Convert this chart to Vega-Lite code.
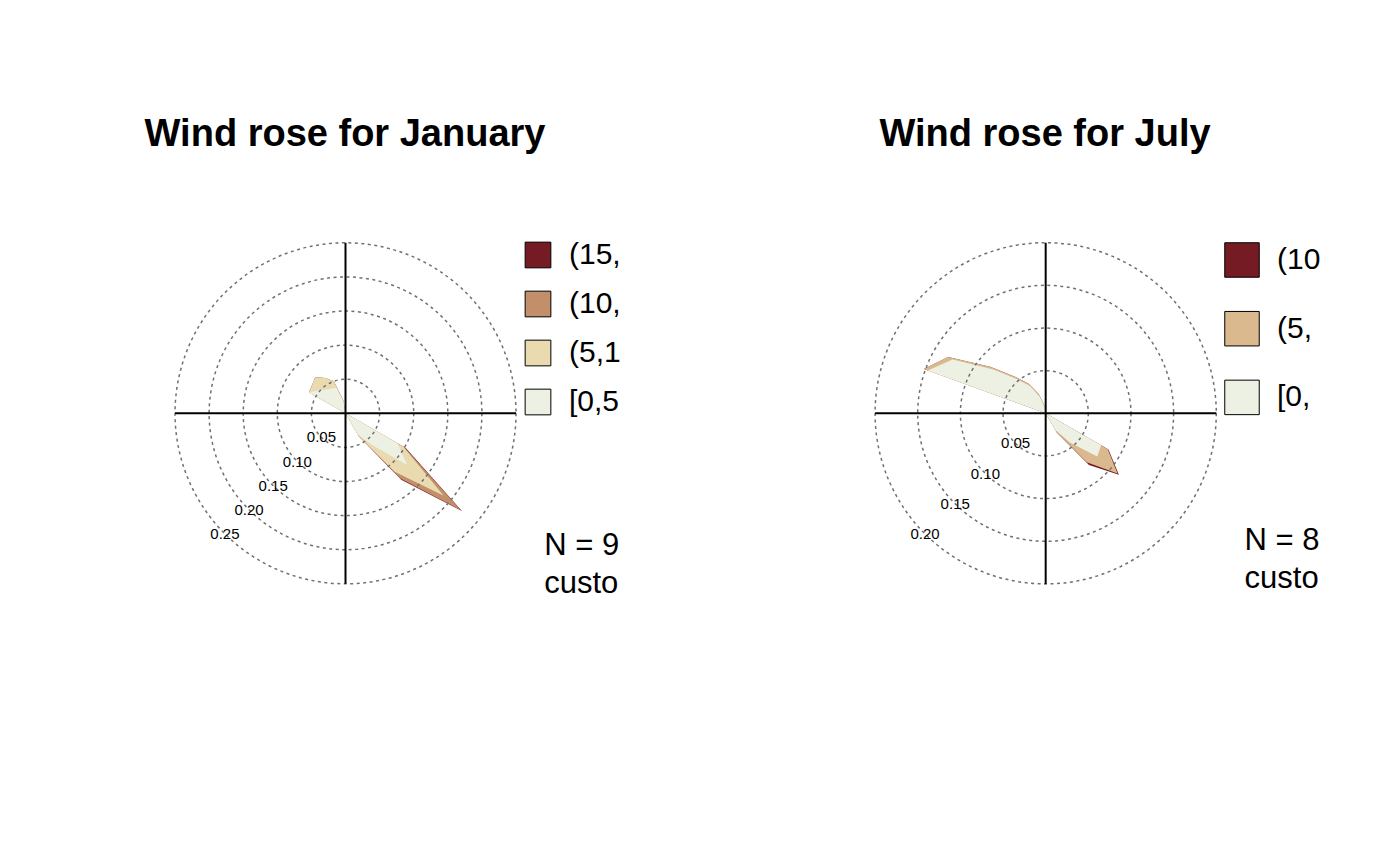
{
  "$schema": "https://vega.github.io/schema/vega-lite/v6.json",
  "background": "white",
  "padding": {"left": 70, "top": 116, "right": 0, "bottom": 0},
  "autosize": {"type": "pad"},
  "bounds": "flush",
  "spacing": 150,
  "config": {"view": {"stroke": null}, "font": "Liberation Sans"},
  "datasets": {
    "jan": [
      {"d": 0, "k": "[0,5]", "cum": 0}, {"d": 0, "k": "(5,10]", "cum": 0}, {"d": 0, "k": "(10,15]", "cum": 0}, {"d": 0, "k": "(15,20]", "cum": 0},
      {"d": 20, "k": "[0,5]", "cum": 0}, {"d": 20, "k": "(5,10]", "cum": 0}, {"d": 20, "k": "(10,15]", "cum": 0}, {"d": 20, "k": "(15,20]", "cum": 0},
      {"d": 30, "k": "[0,5]", "cum": 0.003}, {"d": 30, "k": "(5,10]", "cum": 0.009}, {"d": 30, "k": "(10,15]", "cum": 0.009}, {"d": 30, "k": "(15,20]", "cum": 0.009},
      {"d": 40, "k": "[0,5]", "cum": 0}, {"d": 40, "k": "(5,10]", "cum": 0}, {"d": 40, "k": "(10,15]", "cum": 0}, {"d": 40, "k": "(15,20]", "cum": 0},
      {"d": 110, "k": "[0,5]", "cum": 0}, {"d": 110, "k": "(5,10]", "cum": 0}, {"d": 110, "k": "(10,15]", "cum": 0}, {"d": 110, "k": "(15,20]", "cum": 0},
      {"d": 120, "k": "[0,5]", "cum": 0.088}, {"d": 120, "k": "(5,10]", "cum": 0.098}, {"d": 120, "k": "(10,15]", "cum": 0.1}, {"d": 120, "k": "(15,20]", "cum": 0.102},
      {"d": 130, "k": "[0,5]", "cum": 0.118}, {"d": 130, "k": "(5,10]", "cum": 0.188}, {"d": 130, "k": "(10,15]", "cum": 0.221}, {"d": 130, "k": "(15,20]", "cum": 0.223},
      {"d": 140, "k": "[0,5]", "cum": 0.06}, {"d": 140, "k": "(5,10]", "cum": 0.112}, {"d": 140, "k": "(10,15]", "cum": 0.125}, {"d": 140, "k": "(15,20]", "cum": 0.127},
      {"d": 150, "k": "[0,5]", "cum": 0.036}, {"d": 150, "k": "(5,10]", "cum": 0.037}, {"d": 150, "k": "(10,15]", "cum": 0.038}, {"d": 150, "k": "(15,20]", "cum": 0.039},
      {"d": 160, "k": "[0,5]", "cum": 0}, {"d": 160, "k": "(5,10]", "cum": 0}, {"d": 160, "k": "(10,15]", "cum": 0}, {"d": 160, "k": "(15,20]", "cum": 0},
      {"d": 190, "k": "[0,5]", "cum": 0}, {"d": 190, "k": "(5,10]", "cum": 0}, {"d": 190, "k": "(10,15]", "cum": 0}, {"d": 190, "k": "(15,20]", "cum": 0},
      {"d": 200, "k": "[0,5]", "cum": 0.004}, {"d": 200, "k": "(5,10]", "cum": 0.009}, {"d": 200, "k": "(10,15]", "cum": 0.009}, {"d": 200, "k": "(15,20]", "cum": 0.009},
      {"d": 210, "k": "[0,5]", "cum": 0}, {"d": 210, "k": "(5,10]", "cum": 0}, {"d": 210, "k": "(10,15]", "cum": 0}, {"d": 210, "k": "(15,20]", "cum": 0},
      {"d": 290, "k": "[0,5]", "cum": 0}, {"d": 290, "k": "(5,10]", "cum": 0}, {"d": 290, "k": "(10,15]", "cum": 0}, {"d": 290, "k": "(15,20]", "cum": 0},
      {"d": 300, "k": "[0,5]", "cum": 0.062}, {"d": 300, "k": "(5,10]", "cum": 0.062}, {"d": 300, "k": "(10,15]", "cum": 0.062}, {"d": 300, "k": "(15,20]", "cum": 0.062},
      {"d": 310, "k": "[0,5]", "cum": 0.052}, {"d": 310, "k": "(5,10]", "cum": 0.064}, {"d": 310, "k": "(10,15]", "cum": 0.064}, {"d": 310, "k": "(15,20]", "cum": 0.064},
      {"d": 320, "k": "[0,5]", "cum": 0.045}, {"d": 320, "k": "(5,10]", "cum": 0.069}, {"d": 320, "k": "(10,15]", "cum": 0.069}, {"d": 320, "k": "(15,20]", "cum": 0.069},
      {"d": 330, "k": "[0,5]", "cum": 0.042}, {"d": 330, "k": "(5,10]", "cum": 0.06}, {"d": 330, "k": "(10,15]", "cum": 0.06}, {"d": 330, "k": "(15,20]", "cum": 0.06},
      {"d": 340, "k": "[0,5]", "cum": 0.04}, {"d": 340, "k": "(5,10]", "cum": 0.05}, {"d": 340, "k": "(10,15]", "cum": 0.05}, {"d": 340, "k": "(15,20]", "cum": 0.05},
      {"d": 350, "k": "[0,5]", "cum": 0.018}, {"d": 350, "k": "(5,10]", "cum": 0.02}, {"d": 350, "k": "(10,15]", "cum": 0.02}, {"d": 350, "k": "(15,20]", "cum": 0.02}
    ],
    "jul": [
      {"d": 0, "k": "[0,5]", "cum": 0}, {"d": 0, "k": "(5,10]", "cum": 0}, {"d": 0, "k": "(10,15]", "cum": 0},
      {"d": 110, "k": "[0,5]", "cum": 0}, {"d": 110, "k": "(5,10]", "cum": 0}, {"d": 110, "k": "(10,15]", "cum": 0},
      {"d": 120, "k": "[0,5]", "cum": 0.075}, {"d": 120, "k": "(5,10]", "cum": 0.084}, {"d": 120, "k": "(10,15]", "cum": 0.085},
      {"d": 130, "k": "[0,5]", "cum": 0.079}, {"d": 130, "k": "(5,10]", "cum": 0.11}, {"d": 130, "k": "(10,15]", "cum": 0.112},
      {"d": 140, "k": "[0,5]", "cum": 0.045}, {"d": 140, "k": "(5,10]", "cum": 0.075}, {"d": 140, "k": "(10,15]", "cum": 0.079},
      {"d": 150, "k": "[0,5]", "cum": 0.023}, {"d": 150, "k": "(5,10]", "cum": 0.025}, {"d": 150, "k": "(10,15]", "cum": 0.026},
      {"d": 160, "k": "[0,5]", "cum": 0}, {"d": 160, "k": "(5,10]", "cum": 0}, {"d": 160, "k": "(10,15]", "cum": 0},
      {"d": 280, "k": "[0,5]", "cum": 0}, {"d": 280, "k": "(5,10]", "cum": 0}, {"d": 280, "k": "(10,15]", "cum": 0},
      {"d": 290, "k": "[0,5]", "cum": 0.147}, {"d": 290, "k": "(5,10]", "cum": 0.152}, {"d": 290, "k": "(10,15]", "cum": 0.152},
      {"d": 300, "k": "[0,5]", "cum": 0.126}, {"d": 300, "k": "(5,10]", "cum": 0.132}, {"d": 300, "k": "(10,15]", "cum": 0.132},
      {"d": 310, "k": "[0,5]", "cum": 0.08}, {"d": 310, "k": "(5,10]", "cum": 0.085}, {"d": 310, "k": "(10,15]", "cum": 0.085},
      {"d": 320, "k": "[0,5]", "cum": 0.052}, {"d": 320, "k": "(5,10]", "cum": 0.056}, {"d": 320, "k": "(10,15]", "cum": 0.056},
      {"d": 330, "k": "[0,5]", "cum": 0.037}, {"d": 330, "k": "(5,10]", "cum": 0.04}, {"d": 330, "k": "(10,15]", "cum": 0.04},
      {"d": 340, "k": "[0,5]", "cum": 0.021}, {"d": 340, "k": "(5,10]", "cum": 0.024}, {"d": 340, "k": "(10,15]", "cum": 0.024},
      {"d": 350, "k": "[0,5]", "cum": 0.008}, {"d": 350, "k": "(5,10]", "cum": 0.01}, {"d": 350, "k": "(10,15]", "cum": 0.01}
    ]
  },
  "resolve": {"scale": {"fill": "independent", "size": "independent"}, "legend": {"fill": "independent"}},
  "hconcat": [
    {
      "width": 550,
      "height": 440,
      "title": {"text": "Wind rose for January", "font": "Liberation Sans", "fontSize": 38, "fontWeight": "bold", "color": "black", "anchor": "middle", "offset": 46},
      "layer": [
        {
          "data": {"name": "jan"},
          "transform": [
            {"filter": "datum.k === '(15,20]'"},
            {"calculate": "datum.cum*sin(datum.d*PI/180)", "as": "x"},
            {"calculate": "datum.cum*cos(datum.d*PI/180)", "as": "y"}
          ],
          "mark": {"type": "line", "interpolate": "linear-closed", "stroke": "black", "strokeWidth": 0},
          "encoding": {
            "x": {"field": "x", "type": "quantitative", "scale": {"domain": [-0.404, 0.4025], "nice": false, "zero": false}, "axis": null},
            "y": {"field": "y", "type": "quantitative", "scale": {"domain": [-0.3324, 0.3128], "nice": false, "zero": false}, "axis": null},
            "order": {"field": "d", "type": "quantitative"},
            "fill": {"field": "k", "type": "nominal",
              "scale": {"domain": ["(15,20]", "(10,15]", "(5,10]", "[0,5]"], "range": ["#741B23", "#C38E6A", "#E9DAB0", "#EDF1E4"]},
              "legend": {"title": null, "orient": "none", "legendX": 453, "legendY": 40, "padding": 0, "symbolType": "square", "symbolSize": 660, "symbolStrokeColor": "black", "symbolStrokeWidth": 1, "symbolOpacity": 1, "labelFont": "Liberation Sans", "labelFontSize": 30, "labelColor": "black", "labelLimit": 200, "labelOffset": 16, "rowPadding": 19, "labelExpr": "truncate(datum.label, 4, 'right', '')"}}
          }
        },
        {
          "data": {"name": "jan"},
          "transform": [
            {"filter": "datum.k === '(10,15]'"},
            {"calculate": "datum.cum*sin(datum.d*PI/180)", "as": "x"},
            {"calculate": "datum.cum*cos(datum.d*PI/180)", "as": "y"}
          ],
          "mark": {"type": "line", "interpolate": "linear-closed", "stroke": "black", "strokeWidth": 0},
          "encoding": {
            "x": {"field": "x", "type": "quantitative", "scale": {"domain": [-0.404, 0.4025], "nice": false, "zero": false}, "axis": null},
            "y": {"field": "y", "type": "quantitative", "scale": {"domain": [-0.3324, 0.3128], "nice": false, "zero": false}, "axis": null},
            "order": {"field": "d", "type": "quantitative"},
            "fill": {"field": "k", "type": "nominal",
              "scale": {"domain": ["(15,20]", "(10,15]", "(5,10]", "[0,5]"], "range": ["#741B23", "#C38E6A", "#E9DAB0", "#EDF1E4"]},
              "legend": {"title": null, "orient": "none", "legendX": 453, "legendY": 40, "padding": 0, "symbolType": "square", "symbolSize": 660, "symbolStrokeColor": "black", "symbolStrokeWidth": 1, "symbolOpacity": 1, "labelFont": "Liberation Sans", "labelFontSize": 30, "labelColor": "black", "labelLimit": 200, "labelOffset": 16, "rowPadding": 19, "labelExpr": "truncate(datum.label, 4, 'right', '')"}}
          }
        },
        {
          "data": {"name": "jan"},
          "transform": [
            {"filter": "datum.k === '(5,10]'"},
            {"calculate": "datum.cum*sin(datum.d*PI/180)", "as": "x"},
            {"calculate": "datum.cum*cos(datum.d*PI/180)", "as": "y"}
          ],
          "mark": {"type": "line", "interpolate": "linear-closed", "stroke": "black", "strokeWidth": 0},
          "encoding": {
            "x": {"field": "x", "type": "quantitative", "scale": {"domain": [-0.404, 0.4025], "nice": false, "zero": false}, "axis": null},
            "y": {"field": "y", "type": "quantitative", "scale": {"domain": [-0.3324, 0.3128], "nice": false, "zero": false}, "axis": null},
            "order": {"field": "d", "type": "quantitative"},
            "fill": {"field": "k", "type": "nominal",
              "scale": {"domain": ["(15,20]", "(10,15]", "(5,10]", "[0,5]"], "range": ["#741B23", "#C38E6A", "#E9DAB0", "#EDF1E4"]},
              "legend": {"title": null, "orient": "none", "legendX": 453, "legendY": 40, "padding": 0, "symbolType": "square", "symbolSize": 660, "symbolStrokeColor": "black", "symbolStrokeWidth": 1, "symbolOpacity": 1, "labelFont": "Liberation Sans", "labelFontSize": 30, "labelColor": "black", "labelLimit": 200, "labelOffset": 16, "rowPadding": 19, "labelExpr": "truncate(datum.label, 4, 'right', '')"}}
          }
        },
        {
          "data": {"name": "jan"},
          "transform": [
            {"filter": "datum.k === '[0,5]'"},
            {"calculate": "datum.cum*sin(datum.d*PI/180)", "as": "x"},
            {"calculate": "datum.cum*cos(datum.d*PI/180)", "as": "y"}
          ],
          "mark": {"type": "line", "interpolate": "linear-closed", "stroke": "black", "strokeWidth": 0},
          "encoding": {
            "x": {"field": "x", "type": "quantitative", "scale": {"domain": [-0.404, 0.4025], "nice": false, "zero": false}, "axis": null},
            "y": {"field": "y", "type": "quantitative", "scale": {"domain": [-0.3324, 0.3128], "nice": false, "zero": false}, "axis": null},
            "order": {"field": "d", "type": "quantitative"},
            "fill": {"field": "k", "type": "nominal",
              "scale": {"domain": ["(15,20]", "(10,15]", "(5,10]", "[0,5]"], "range": ["#741B23", "#C38E6A", "#E9DAB0", "#EDF1E4"]},
              "legend": {"title": null, "orient": "none", "legendX": 453, "legendY": 40, "padding": 0, "symbolType": "square", "symbolSize": 660, "symbolStrokeColor": "black", "symbolStrokeWidth": 1, "symbolOpacity": 1, "labelFont": "Liberation Sans", "labelFontSize": 30, "labelColor": "black", "labelLimit": 200, "labelOffset": 16, "rowPadding": 19, "labelExpr": "truncate(datum.label, 4, 'right', '')"}}
          }
        },
        {
          "data": {"values": [{"r": 0.05}, {"r": 0.1}, {"r": 0.15}, {"r": 0.2}, {"r": 0.25}]},
          "mark": {"type": "point", "shape": "circle", "filled": false, "stroke": "#707070", "strokeWidth": 1.5, "strokeDash": [3, 3.5], "opacity": 1},
          "encoding": {
            "x": {"datum": 0, "type": "quantitative", "scale": {"domain": [-0.404, 0.4025], "nice": false, "zero": false}, "axis": null},
            "y": {"datum": 0, "type": "quantitative", "scale": {"domain": [-0.3324, 0.3128], "nice": false, "zero": false}, "axis": null},
            "size": {"field": "r", "type": "quantitative", "scale": {"type": "pow", "exponent": 2, "zero": true, "domain": [0, 0.25], "range": [0, 116281]}, "legend": null}
          }
        },
        {
          "data": {"values": [{}]},
          "mark": {"type": "rule", "color": "black", "strokeWidth": 2},
          "encoding": {
            "x": {"datum": -0.25, "type": "quantitative", "scale": {"domain": [-0.404, 0.4025], "nice": false, "zero": false}, "axis": null},
            "x2": {"datum": 0.25},
            "y": {"datum": 0, "type": "quantitative", "scale": {"domain": [-0.3324, 0.3128], "nice": false, "zero": false}, "axis": null}
          }
        },
        {
          "data": {"values": [{}]},
          "mark": {"type": "rule", "color": "black", "strokeWidth": 2},
          "encoding": {
            "x": {"datum": 0, "type": "quantitative", "scale": {"domain": [-0.404, 0.4025], "nice": false, "zero": false}, "axis": null},
            "y": {"datum": -0.25, "type": "quantitative", "scale": {"domain": [-0.3324, 0.3128], "nice": false, "zero": false}, "axis": null},
            "y2": {"datum": 0.25}
          }
        },
        {
          "data": {"values": [{"r": 0.05}, {"r": 0.1}, {"r": 0.15}, {"r": 0.2}, {"r": 0.25}]},
          "transform": [
            {"calculate": "datum.r*sin(225*PI/180)", "as": "x"},
            {"calculate": "datum.r*cos(225*PI/180)", "as": "y"}
          ],
          "mark": {"type": "text", "font": "Liberation Sans", "fontSize": 15, "align": "center", "baseline": "middle", "color": "black"},
          "encoding": {
            "x": {"field": "x", "type": "quantitative", "scale": {"domain": [-0.404, 0.4025], "nice": false, "zero": false}, "axis": null},
            "y": {"field": "y", "type": "quantitative", "scale": {"domain": [-0.3324, 0.3128], "nice": false, "zero": false}, "axis": null},
            "text": {"field": "r", "type": "quantitative", "format": ".2f"}
          }
        },
        {
          "data": {"values": [{"t": "N = 9\ncusto"}]},
          "mark": {"type": "text", "font": "Liberation Sans", "fontSize": 31, "align": "left", "baseline": "alphabetic", "color": "black", "lineBreak": "\n", "lineHeight": 38},
          "encoding": {
            "x": {"datum": 0.2913, "type": "quantitative", "scale": {"domain": [-0.404, 0.4025], "nice": false, "zero": false}, "axis": null},
            "y": {"datum": -0.2078, "type": "quantitative", "scale": {"domain": [-0.3324, 0.3128], "nice": false, "zero": false}, "axis": null},
            "text": {"field": "t"}
          }
        }
      ]
    },
    {
      "width": 550,
      "height": 440,
      "title": {"text": "Wind rose for July", "font": "Liberation Sans", "fontSize": 38, "fontWeight": "bold", "color": "black", "anchor": "middle", "offset": 46},
      "layer": [
        {
          "data": {"name": "jul"},
          "transform": [
            {"filter": "datum.k === '(10,15]'"},
            {"calculate": "datum.cum*sin(datum.d*PI/180)", "as": "x"},
            {"calculate": "datum.cum*cos(datum.d*PI/180)", "as": "y"}
          ],
          "mark": {"type": "line", "interpolate": "linear-closed", "stroke": "black", "strokeWidth": 0},
          "encoding": {
            "x": {"field": "x", "type": "quantitative", "scale": {"domain": [-0.3232, 0.3216], "nice": false, "zero": false}, "axis": null},
            "y": {"field": "y", "type": "quantitative", "scale": {"domain": [-0.2658, 0.2501], "nice": false, "zero": false}, "axis": null},
            "order": {"field": "d", "type": "quantitative"},
            "fill": {"field": "k", "type": "nominal",
              "scale": {"domain": ["(10,15]", "(5,10]", "[0,5]"], "range": ["#741B23", "#DBB98E", "#EDF1E4"]},
              "legend": {"title": null, "orient": "none", "legendX": 454, "legendY": 42, "padding": 0, "symbolType": "square", "symbolSize": 1190, "symbolStrokeColor": "black", "symbolStrokeWidth": 1, "symbolOpacity": 1, "labelFont": "Liberation Sans", "labelFontSize": 30, "labelColor": "black", "labelLimit": 200, "labelOffset": 17, "rowPadding": 28.7, "labelExpr": "truncate(datum.label, 3, 'right', '')"}}
          }
        },
        {
          "data": {"name": "jul"},
          "transform": [
            {"filter": "datum.k === '(5,10]'"},
            {"calculate": "datum.cum*sin(datum.d*PI/180)", "as": "x"},
            {"calculate": "datum.cum*cos(datum.d*PI/180)", "as": "y"}
          ],
          "mark": {"type": "line", "interpolate": "linear-closed", "stroke": "black", "strokeWidth": 0},
          "encoding": {
            "x": {"field": "x", "type": "quantitative", "scale": {"domain": [-0.3232, 0.3216], "nice": false, "zero": false}, "axis": null},
            "y": {"field": "y", "type": "quantitative", "scale": {"domain": [-0.2658, 0.2501], "nice": false, "zero": false}, "axis": null},
            "order": {"field": "d", "type": "quantitative"},
            "fill": {"field": "k", "type": "nominal",
              "scale": {"domain": ["(10,15]", "(5,10]", "[0,5]"], "range": ["#741B23", "#DBB98E", "#EDF1E4"]},
              "legend": {"title": null, "orient": "none", "legendX": 454, "legendY": 42, "padding": 0, "symbolType": "square", "symbolSize": 1190, "symbolStrokeColor": "black", "symbolStrokeWidth": 1, "symbolOpacity": 1, "labelFont": "Liberation Sans", "labelFontSize": 30, "labelColor": "black", "labelLimit": 200, "labelOffset": 17, "rowPadding": 28.7, "labelExpr": "truncate(datum.label, 3, 'right', '')"}}
          }
        },
        {
          "data": {"name": "jul"},
          "transform": [
            {"filter": "datum.k === '[0,5]'"},
            {"calculate": "datum.cum*sin(datum.d*PI/180)", "as": "x"},
            {"calculate": "datum.cum*cos(datum.d*PI/180)", "as": "y"}
          ],
          "mark": {"type": "line", "interpolate": "linear-closed", "stroke": "black", "strokeWidth": 0},
          "encoding": {
            "x": {"field": "x", "type": "quantitative", "scale": {"domain": [-0.3232, 0.3216], "nice": false, "zero": false}, "axis": null},
            "y": {"field": "y", "type": "quantitative", "scale": {"domain": [-0.2658, 0.2501], "nice": false, "zero": false}, "axis": null},
            "order": {"field": "d", "type": "quantitative"},
            "fill": {"field": "k", "type": "nominal",
              "scale": {"domain": ["(10,15]", "(5,10]", "[0,5]"], "range": ["#741B23", "#DBB98E", "#EDF1E4"]},
              "legend": {"title": null, "orient": "none", "legendX": 454, "legendY": 42, "padding": 0, "symbolType": "square", "symbolSize": 1190, "symbolStrokeColor": "black", "symbolStrokeWidth": 1, "symbolOpacity": 1, "labelFont": "Liberation Sans", "labelFontSize": 30, "labelColor": "black", "labelLimit": 200, "labelOffset": 17, "rowPadding": 28.7, "labelExpr": "truncate(datum.label, 3, 'right', '')"}}
          }
        },
        {
          "data": {"values": [{"r": 0.05}, {"r": 0.1}, {"r": 0.15}, {"r": 0.2}]},
          "mark": {"type": "point", "shape": "circle", "filled": false, "stroke": "#707070", "strokeWidth": 1.5, "strokeDash": [3, 3.5], "opacity": 1},
          "encoding": {
            "x": {"datum": 0, "type": "quantitative", "scale": {"domain": [-0.3232, 0.3216], "nice": false, "zero": false}, "axis": null},
            "y": {"datum": 0, "type": "quantitative", "scale": {"domain": [-0.2658, 0.2501], "nice": false, "zero": false}, "axis": null},
            "size": {"field": "r", "type": "quantitative", "scale": {"type": "pow", "exponent": 2, "zero": true, "domain": [0, 0.2], "range": [0, 116418]}, "legend": null}
          }
        },
        {
          "data": {"values": [{}]},
          "mark": {"type": "rule", "color": "black", "strokeWidth": 2},
          "encoding": {
            "x": {"datum": -0.2, "type": "quantitative", "scale": {"domain": [-0.3232, 0.3216], "nice": false, "zero": false}, "axis": null},
            "x2": {"datum": 0.2},
            "y": {"datum": 0, "type": "quantitative", "scale": {"domain": [-0.2658, 0.2501], "nice": false, "zero": false}, "axis": null}
          }
        },
        {
          "data": {"values": [{}]},
          "mark": {"type": "rule", "color": "black", "strokeWidth": 2},
          "encoding": {
            "x": {"datum": 0, "type": "quantitative", "scale": {"domain": [-0.3232, 0.3216], "nice": false, "zero": false}, "axis": null},
            "y": {"datum": -0.2, "type": "quantitative", "scale": {"domain": [-0.2658, 0.2501], "nice": false, "zero": false}, "axis": null},
            "y2": {"datum": 0.2}
          }
        },
        {
          "data": {"values": [{"r": 0.05}, {"r": 0.1}, {"r": 0.15}, {"r": 0.2}]},
          "transform": [
            {"calculate": "datum.r*sin(225*PI/180)", "as": "x"},
            {"calculate": "datum.r*cos(225*PI/180)", "as": "y"}
          ],
          "mark": {"type": "text", "font": "Liberation Sans", "fontSize": 15, "align": "center", "baseline": "middle", "color": "black"},
          "encoding": {
            "x": {"field": "x", "type": "quantitative", "scale": {"domain": [-0.3232, 0.3216], "nice": false, "zero": false}, "axis": null},
            "y": {"field": "y", "type": "quantitative", "scale": {"domain": [-0.2658, 0.2501], "nice": false, "zero": false}, "axis": null},
            "text": {"field": "r", "type": "quantitative", "format": ".2f"}
          }
        },
        {
          "data": {"values": [{"t": "N = 8\ncusto"}]},
          "mark": {"type": "text", "font": "Liberation Sans", "fontSize": 31, "align": "left", "baseline": "alphabetic", "color": "black", "lineBreak": "\n", "lineHeight": 38},
          "encoding": {
            "x": {"datum": 0.2332, "type": "quantitative", "scale": {"domain": [-0.3232, 0.3216], "nice": false, "zero": false}, "axis": null},
            "y": {"datum": -0.1605, "type": "quantitative", "scale": {"domain": [-0.2658, 0.2501], "nice": false, "zero": false}, "axis": null},
            "text": {"field": "t"}
          }
        }
      ]
    }
  ]
}
